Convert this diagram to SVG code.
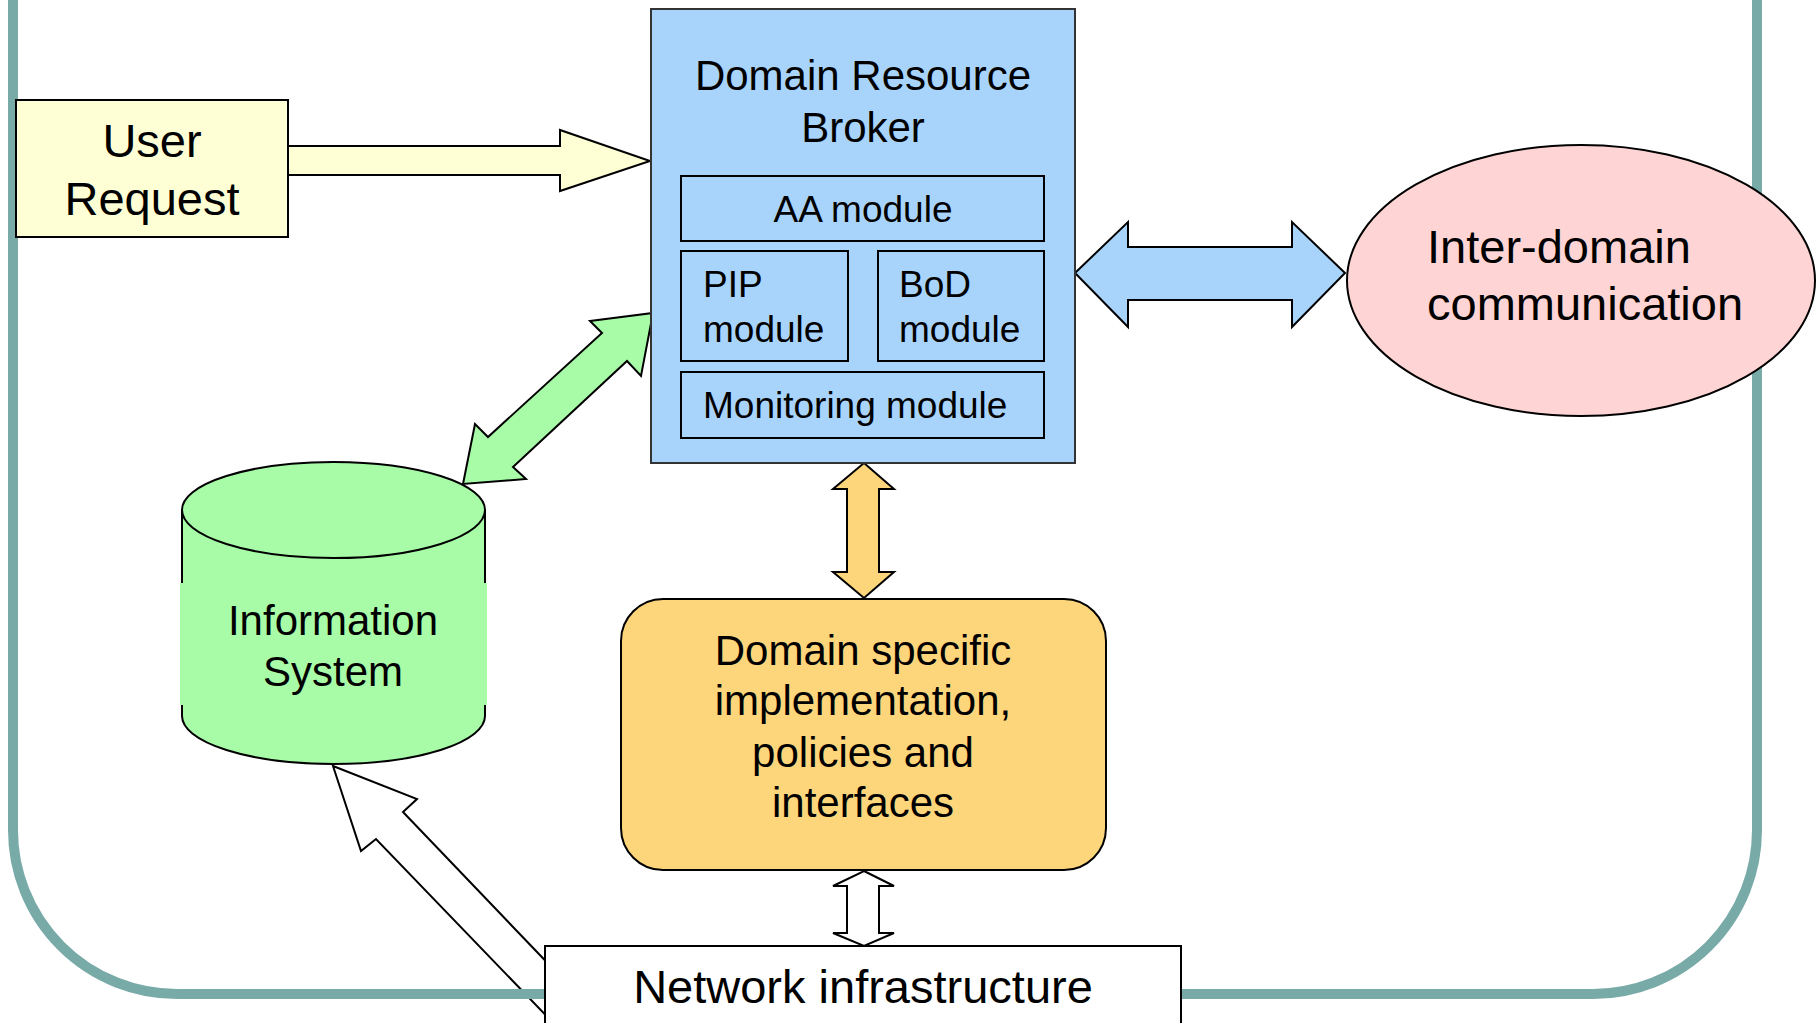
<svg xmlns="http://www.w3.org/2000/svg" width="1816" height="1023" viewBox="0 0 1816 1023">
<style>
text{font-family:"Liberation Sans",Arial,sans-serif;fill:#000}
.ln{stroke:#000;stroke-width:2;stroke-linejoin:miter}
.t47{font-size:47px}
.t42{font-size:42px}
.t37{font-size:37px}
.mid{text-anchor:middle}
</style>
<rect width="1816" height="1023" fill="#fff"/>
<g id="connectors">
<polygon id="arrow-net-is" class="ln" fill="#fff" points="333,766 417,799 403,812 560,976 560,1030 376,839 361,851"/>
</g>
<path id="frame" d="M13,-20 V830 A164,164 0 0 0 177,994 H1593 A164,164 0 0 0 1757,830 V-20" fill="none" stroke="#78aaa8" stroke-width="10"/>
<g id="connectors2">
<polygon id="arrow-user-drb" class="ln" fill="#ffffd5" points="288,146 560,146 560,130 650,161 560,191 560,175 288,175"/>
<polygon id="arrow-drb-is" class="ln" fill="#a8fca8" points="653,313 641,376 627,361 513,467 526,479 463,484 475,424 488,437 602,333 590,321"/>
<polygon id="arrow-drb-inter" class="ln" fill="#a8d4fc" points="1075,273 1128,222 1128,247 1292,247 1292,222 1345,273 1292,327 1292,300 1128,300 1128,327"/>
<polygon id="arrow-drb-dsi" class="ln" fill="#fdd57a" points="864,463 894,489 879,489 879,572 894,572 864,598 833,572 847,572 847,489 833,489"/>
<polygon id="arrow-dsi-net" class="ln" fill="#fff" points="864,871 894,886 879,886 879,933 894,933 864,946 833,933 847,933 847,886 833,886"/>
</g>
<g id="user-request">
<rect x="16" y="100" width="272" height="137" class="ln" fill="#ffffd5"/>
<text class="t47 mid" x="152" y="157">User</text>
<text class="t47 mid" x="152" y="215">Request</text>
</g>
<g id="drb">
<rect x="651" y="9" width="424" height="454" fill="#a8d4fc" stroke="#333" stroke-width="2"/>
<text class="t42 mid" x="863" y="90">Domain Resource</text>
<text class="t42 mid" x="863" y="142">Broker</text>
<g id="aa-module">
<rect x="681" y="176" width="363" height="65" class="ln" fill="none"/>
<text class="t37 mid" x="863" y="222">AA module</text>
</g>
<g id="pip-module">
<rect x="681" y="251" width="167" height="110" class="ln" fill="none"/>
<text class="t37" x="703" y="297">PIP</text>
<text class="t37" x="703" y="342">module</text>
</g>
<g id="bod-module">
<rect x="878" y="251" width="166" height="110" class="ln" fill="none"/>
<text class="t37" x="899" y="297">BoD</text>
<text class="t37" x="899" y="342">module</text>
</g>
<g id="monitoring-module">
<rect x="681" y="372" width="363" height="66" class="ln" fill="none"/>
<text class="t37" x="703" y="418">Monitoring module</text>
</g>
</g>
<g id="inter-domain">
<ellipse cx="1581" cy="280.5" rx="234" ry="135.5" class="ln" fill="#fed5d4"/>
<text class="t47" x="1427" y="263">Inter-domain</text>
<text class="t47" x="1427" y="320">communication</text>
</g>
<g id="information-system">
<path d="M182,510 V716 A151.5,48 0 0 0 485,716 V510 Z" class="ln" fill="#a8fca8"/>
<rect x="180" y="583" width="307" height="122" fill="#a8fca8"/>
<ellipse cx="333.5" cy="510" rx="151.5" ry="48" class="ln" fill="#a8fca8"/>
<text class="t42 mid" x="333" y="635">Information</text>
<text class="t42 mid" x="333" y="686">System</text>
</g>
<g id="domain-specific">
<rect x="621" y="599" width="485" height="271" rx="42" ry="42" class="ln" fill="#fdd57a"/>
<text class="t42 mid" x="863" y="665">Domain specific</text>
<text class="t42 mid" x="863" y="715">implementation,</text>
<text class="t42 mid" x="863" y="767">policies and</text>
<text class="t42 mid" x="863" y="817">interfaces</text>
</g>
<g id="network">
<rect x="545" y="946" width="636" height="100" class="ln" fill="#fff"/>
<text class="t47 mid" x="863" y="1003">Network infrastructure</text>
</g>
</svg>
